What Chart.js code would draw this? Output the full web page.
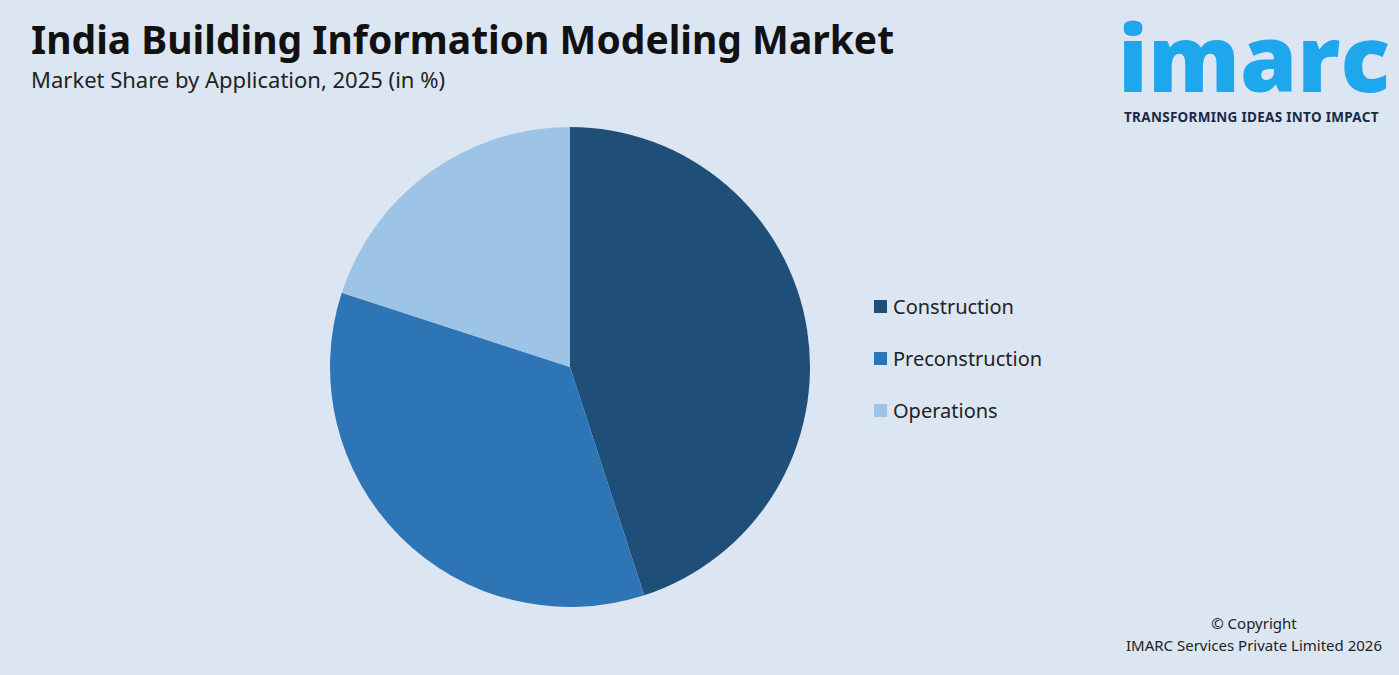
<!DOCTYPE html>
<html><head><meta charset="utf-8">
<script src="https://cdn.jsdelivr.net/npm/chart.js@4"></script>
<style>
body{margin:0;width:1399px;height:675px;background:#dce6f3;font-family:"Noto Sans",sans-serif;position:relative;overflow:hidden}
#t{position:absolute;left:31px;top:12px;font-size:39px;font-weight:bold;color:#111}
#s{position:absolute;left:31px;top:64px;font-size:22px;color:#222}
#c{position:absolute;left:320px;top:117px;width:500px;height:500px}
#lg{position:absolute;left:874px;top:293px;font-size:20px;color:#222}
#lg div{height:52px;display:flex;align-items:flex-start}
#lg span{display:inline-block;width:13px;height:13px;margin:7px 6px 0 0}
#logo{position:absolute;left:1118px;top:-6px;color:#1ea7ec;font-size:92px;font-weight:800;font-family:"Open Sans",sans-serif;letter-spacing:0px}
#tag{position:absolute;left:1124px;top:108px;font-size:13.5px;font-weight:bold;color:#1a2a44;letter-spacing:.3px}
#cp{position:absolute;right:17px;top:612px;font-size:15px;color:#222;text-align:center;line-height:22px}
</style></head><body>
<div id="t">India Building Information Modeling Market</div>
<div id="s">Market Share by Application, 2025 (in %)</div>
<div id="logo">imarc</div>
<div id="tag">TRANSFORMING IDEAS INTO IMPACT</div>
<div id="c"><canvas id="cv"></canvas></div>
<div id="lg"></div>
<div id="cp">© Copyright<br>IMARC Services Private Limited 2026</div>
<script>
const categories=["Construction","Preconstruction","Operations"];
const shares=[45,35,20];
const colors=["#1f4e79","#2e75b6","#9dc3e6"];
new Chart(document.getElementById('cv'),{type:'pie',
data:{labels:categories,datasets:[{data:shares,backgroundColor:colors,borderWidth:0}]},
options:{responsive:true,maintainAspectRatio:false,animation:false,layout:{padding:10},
plugins:{legend:{display:false},tooltip:{enabled:false}}}});
document.getElementById('lg').innerHTML=categories.map((c,i)=>`<div><span style="background:${colors[i]}"></span>${c}</div>`).join('');
</script>
</body></html>
